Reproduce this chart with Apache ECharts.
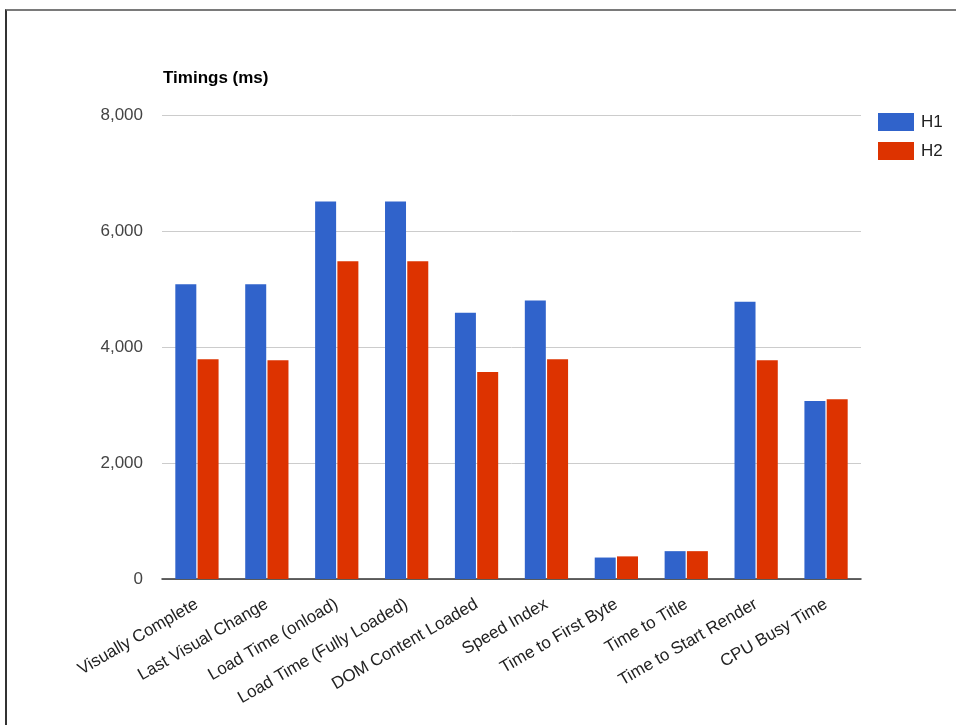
<!DOCTYPE html>
<html>
<head>
<meta charset="utf-8">
<script src="https://cdn.jsdelivr.net/npm/echarts@6/dist/echarts.min.js"></script>
<style>
  html, body { margin: 0; padding: 0; background: #fff; }
  #frame { position: absolute; left: 5px; top: 9px; width: 960px; height: 730px;
           border-top: 2px solid #7a7a7a; border-left: 2px solid #333; box-sizing: border-box; }
  #chart { position: absolute; left: 0; top: 0; width: 956px; height: 725px; }
</style>
</head>
<body>
<div id="frame"></div>
<div id="chart"></div>
<script>
const categories = ["Visually Complete", "Last Visual Change", "Load Time (onload)", "Load Time (Fully Loaded)",
  "DOM Content Loaded", "Speed Index", "Time to First Byte", "Time to Title", "Time to Start Render", "CPU Busy Time"];
const h1 = [5080, 5080, 6510, 6510, 4590, 4800, 370, 480, 4780, 3070];
const h2 = [3790, 3770, 5480, 5480, 3570, 3790, 390, 480, 3770, 3100];
const seriesNames = ["H1", "H2"];

const chart = echarts.init(document.getElementById('chart'));
const font = "'Liberation Sans', Arial, sans-serif";
chart.setOption({
  animation: false,
  textStyle: { fontFamily: font },
  title: {
    text: "Timings (ms)", left: 158, top: 65,
    textStyle: { fontFamily: font, fontSize: 17, fontWeight: 'bold', color: '#000' }
  },
  legend: {
    orient: 'vertical', left: 873, top: 108, itemWidth: 36, itemHeight: 18, itemGap: 11,
    icon: 'rect', data: seriesNames,
    textStyle: { fontFamily: font, fontSize: 17, color: '#222', padding: [0, 0, 0, 2] }
  },
  grid: { left: 162, right: 95, top: 115, bottom: 146, containLabel: false },
  xAxis: {
    type: 'category', data: categories,
    axisLine: { lineStyle: { color: '#333', width: 1.5 } },
    axisTick: { show: false },
    axisLabel: { rotate: 30, interval: 0, margin: 24, fontFamily: font, fontSize: 17, color: '#222' }
  },
  yAxis: {
    type: 'value', min: 0, max: 8000, interval: 2000,
    axisLine: { show: false }, axisTick: { show: false },
    splitLine: { lineStyle: { color: '#cccccc', width: 1 } },
    axisLabel: { margin: 19, fontFamily: font, fontSize: 17, color: '#444',
      formatter: v => v.toLocaleString('en-US') }
  },
  series: [
    { name: seriesNames[0], type: 'bar', data: h1, barWidth: 21, barGap: '6%',
      itemStyle: { color: '#3063cb' } },
    { name: seriesNames[1], type: 'bar', data: h2, barWidth: 21, barGap: '6%',
      itemStyle: { color: '#dd3300' } }
  ]
});
</script>
</body>
</html>
